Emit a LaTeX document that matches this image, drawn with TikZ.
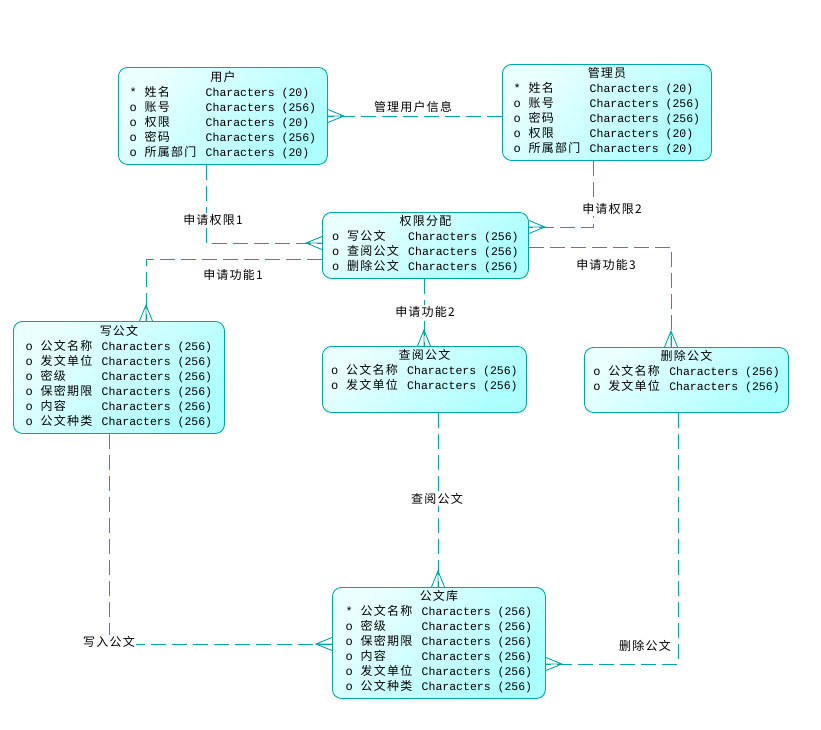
\documentclass[tikz,border=0pt]{standalone}
\usepackage{fontspec}
\usepackage{array}
\setmainfont[LetterSpace=10]{Noto Sans CJK SC}
\setmonofont{Liberation Mono}
\usetikzlibrary{decorations.markings}

\definecolor{linec}{RGB}{0,166,166}
\definecolor{boxlight}{RGB}{234,255,255}
\definecolor{boxdark}{RGB}{172,255,255}

% attribute columns: marker, name, type
\setlength{\tabcolsep}{0pt}
\newcolumntype{M}{>{\ttfamily}p{15pt}}
\newcolumntype{N}{p{61pt}}
\newcolumntype{T}{>{\ttfamily\fontsize{11.5}{15}\selectfont}l}

\begin{document}
\begin{tikzpicture}[x=1pt, y=-1pt,
  font=\fontsize{12}{15}\selectfont,
  %--- entity boxes ---
  ent/.style={draw=linec, line width=0.9pt, rounded corners=9pt, anchor=north west,
    top color=boxlight, bottom color=boxdark, shading angle=45, inner sep=0pt},
  %--- relationships (crow's foot at the end) ---
  rel/.style={draw=linec, line width=0.9pt, dash pattern=on 15pt off 6pt,
    postaction={decorate}, decoration={markings, mark=at position 1 with
      {\draw[solid, linec, line width=0.9pt] (-16pt,0) -- (0,0)
        (0,6.5pt) -- (-16pt,0) -- (0,-6.5pt);}}},
  %--- labels ---
  lbl/.style={inner sep=1pt},
  lblw/.style={lbl, fill=white}
]
\useasboundingbox (0,0) rectangle (821,729);

%% ── ENTITIES ────────────────────────────────────────────────
\node[ent, minimum width=209pt, minimum height=97pt] (user) at (118,67)
  {\begin{tabular}{@{}MNT@{}}
   \multicolumn{3}{c}{用户}\\
   {*} & 姓名 & Characters (20)\\
   o & 账号 & Characters (256)\\
   o & 权限 & Characters (20)\\
   o & 密码 & Characters (256)\\
   o & 所属部门 & Characters (20)
   \end{tabular}};

\node[ent, minimum width=209pt, minimum height=96pt] (admin) at (502,64)
  {\begin{tabular}{@{}MNT@{}}
   \multicolumn{3}{c}{管理员}\\
   {*} & 姓名 & Characters (20)\\
   o & 账号 & Characters (256)\\
   o & 密码 & Characters (256)\\
   o & 权限 & Characters (20)\\
   o & 所属部门 & Characters (20)
   \end{tabular}};

\node[ent, minimum width=206pt, minimum height=66pt] (perm) at (322,212)
  {\begin{tabular}{@{}MNT@{}}
   \multicolumn{3}{c}{权限分配}\\
   o & 写公文 & Characters (256)\\
   o & 查阅公文 & Characters (256)\\
   o & 删除公文 & Characters (256)
   \end{tabular}};

\node[ent, minimum width=211pt, minimum height=112pt] (write) at (13,321)
  {\begin{tabular}{@{}MNT@{}}
   \multicolumn{3}{c}{写公文}\\
   o & 公文名称 & Characters (256)\\
   o & 发文单位 & Characters (256)\\
   o & 密级 & Characters (256)\\
   o & 保密期限 & Characters (256)\\
   o & 内容 & Characters (256)\\
   o & 公文种类 & Characters (256)
   \end{tabular}};

\node[ent, minimum width=204pt, minimum height=66pt] (query) at (322,346)
  {\begin{tabular}{@{}MNT@{}}
   \multicolumn{3}{c}{查阅公文}\\
   o & 公文名称 & Characters (256)\\
   o & 发文单位 & Characters (256)\\[15pt]
   \end{tabular}};

\node[ent, minimum width=204pt, minimum height=65pt] (del) at (584,347)
  {\begin{tabular}{@{}MNT@{}}
   \multicolumn{3}{c}{删除公文}\\
   o & 公文名称 & Characters (256)\\
   o & 发文单位 & Characters (256)\\[15pt]
   \end{tabular}};

\node[ent, minimum width=213pt, minimum height=111pt] (lib) at (332,587)
  {\begin{tabular}{@{}MNT@{}}
   \multicolumn{3}{c}{公文库}\\
   {*} & 公文名称 & Characters (256)\\
   o & 密级 & Characters (256)\\
   o & 保密期限 & Characters (256)\\
   o & 内容 & Characters (256)\\
   o & 发文单位 & Characters (256)\\
   o & 公文种类 & Characters (256)
   \end{tabular}};

%% ── RELATIONSHIPS ───────────────────────────────────────────
\draw[rel] (admin.west |- 0,116) -- (user.east |- 0,116);
\draw[rel] (user.south -| 206,0) |- (perm.west |- 0,243);
\draw[rel] (admin.south -| 593,0) |- (perm.east |- 0,227);
\draw[rel] (perm.west |- 0,259) -| (write.north -| 146,0);
\draw[rel] (perm.south -| 424,0) -- (query.north -| 424,0);
\draw[rel] (perm.east |- 0,247) -| (del.north -| 671,0);
\draw[rel] (write.south -| 109,0) |- (lib.west |- 0,644);
\draw[rel] (query.south -| 438,0) -- (lib.north -| 438,0);
\draw[rel] (del.south -| 678,0) |- (lib.east |- 0,664);

%% ── LABELS ──────────────────────────────────────────────────
\node[lbl] (l-manage) at (413,107) {管理用户信息};
\node[lblw] (l-req1) at (213,220) {申请权限1};
\node[lbl] (l-func1) at (233,275) {申请功能1};
\node[lblw] (l-req2) at (612,209) {申请权限2};
\node[lbl] (l-func3) at (606,265) {申请功能3};
\node[lblw] (l-func2) at (425,312) {申请功能2};
\node[lblw] (l-query) at (437,499) {查阅公文};
\node[lblw] (l-write) at (109,642) {写入公文};
\node[lbl] (l-del) at (645,646) {删除公文};
\end{tikzpicture}
\end{document}
